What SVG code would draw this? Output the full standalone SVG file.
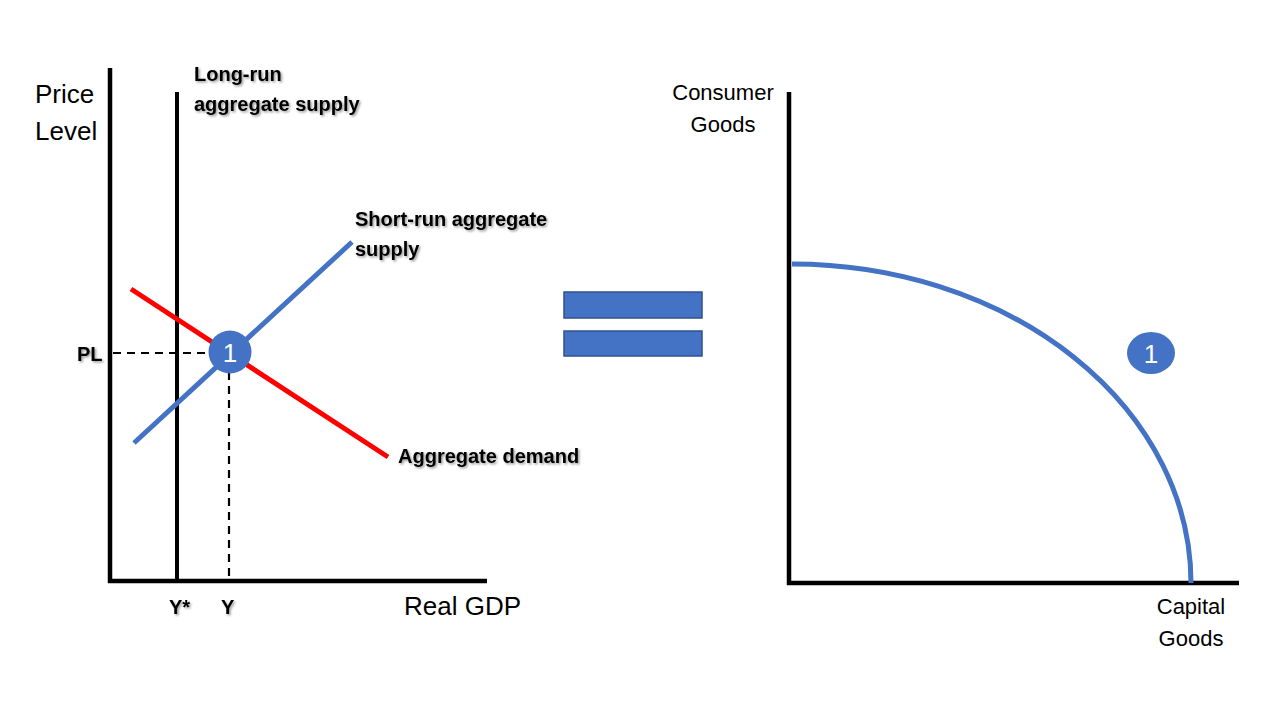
<svg xmlns="http://www.w3.org/2000/svg" width="1280" height="720" viewBox="0 0 1280 720">
<defs>
<filter id="sh" x="-10%" y="-30%" width="120%" height="160%">
<feDropShadow dx="1.5" dy="1.5" stdDeviation="1" flood-color="#000" flood-opacity="0.4"/>
</filter>
<style>
.ax{stroke:#000;stroke-width:4.5;fill:none}
.dash{stroke:#000;stroke-width:2.2;stroke-dasharray:8 6;fill:none}
.lbl{font-family:"Liberation Sans",Arial,sans-serif;font-weight:bold;font-size:20px;fill:#000}
.ttl{font-family:"Liberation Sans",Arial,sans-serif;font-size:26px;fill:#000}
.ttl2{font-family:"Liberation Sans",Arial,sans-serif;font-size:22px;fill:#000}
.num{font-family:"Liberation Sans",Arial,sans-serif;font-size:26px;fill:#fff;text-anchor:middle}
.bar{fill:#4472C4;stroke:#2F528F;stroke-width:1.5}
</style>
</defs>
<rect width="1280" height="720" fill="#fff"/>
<g id="left-axes">
<line class="ax" x1="110" y1="68" x2="110" y2="583"/>
<line class="ax" x1="108" y1="581" x2="487" y2="581"/>
<text class="ttl" x="35" y="103">Price</text>
<text class="ttl" x="35" y="140">Level</text>
<text class="ttl" x="404" y="615">Real GDP</text>
</g>
<g id="connectors">
<line class="dash" x1="113" y1="353" x2="215" y2="353"/>
<line class="dash" x1="229" y1="372" x2="229" y2="580"/>
</g>
<g id="lras">
<line stroke="#000" stroke-width="4" x1="177" y1="92" x2="177" y2="583"/>
<text class="lbl" x="194" y="81" filter="url(#sh)">Long-run</text>
<text class="lbl" x="194" y="111" filter="url(#sh)">aggregate supply</text>
</g>
<g id="sras">
<line stroke="#4472C4" stroke-width="5" x1="134" y1="443" x2="352" y2="242"/>
<text class="lbl" x="355" y="226" filter="url(#sh)">Short-run aggregate</text>
<text class="lbl" x="355" y="256" filter="url(#sh)">supply</text>
</g>
<g id="ad">
<line stroke="#FF0000" stroke-width="5" x1="131" y1="289" x2="388" y2="457"/>
<text class="lbl" x="398" y="463" filter="url(#sh)">Aggregate demand</text>
</g>
<g id="labels-left">
<text class="lbl" x="77" y="361" filter="url(#sh)">PL</text>
<text class="lbl" x="169" y="614" filter="url(#sh)">Y*</text>
<text class="lbl" x="221" y="614" filter="url(#sh)">Y</text>
</g>
<g id="point1-left">
<circle cx="230" cy="352" r="21.5" fill="#4472C4"/>
<text class="num" x="230" y="362">1</text>
</g>
<g id="equals">
<rect class="bar" x="564" y="292" width="138" height="26"/>
<rect class="bar" x="564" y="331" width="138" height="25"/>
</g>
<g id="right-axes">
<line class="ax" x1="789" y1="92" x2="789" y2="585"/>
<line class="ax" x1="787" y1="583" x2="1239" y2="583"/>
<text class="ttl2" x="723" y="100" text-anchor="middle">Consumer</text>
<text class="ttl2" x="723" y="132" text-anchor="middle">Goods</text>
<text class="ttl2" x="1191" y="614" text-anchor="middle">Capital</text>
<text class="ttl2" x="1191" y="646" text-anchor="middle">Goods</text>
</g>
<g id="ppf">
<path d="M792,264 A399,319 0 0 1 1191,583" stroke="#4472C4" stroke-width="5" fill="none"/>
</g>
<g id="point1-right">
<ellipse cx="1151" cy="353" rx="24" ry="21" fill="#4472C4"/>
<text class="num" x="1151" y="363">1</text>
</g>
</svg>
